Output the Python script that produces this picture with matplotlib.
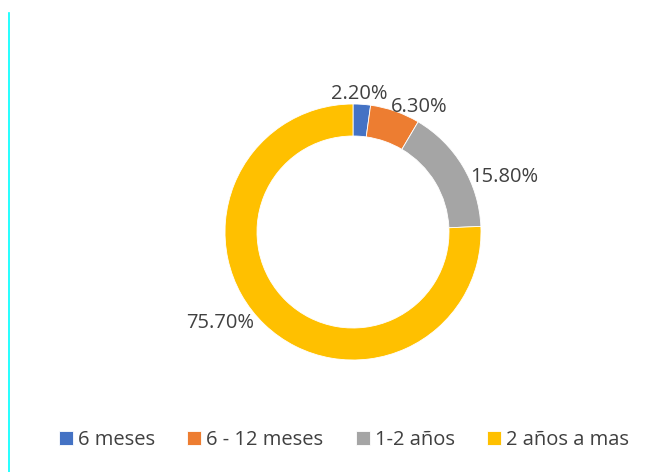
import matplotlib.pyplot as plt
from matplotlib.lines import Line2D

plt.rcParams['font.family'] = ['Open Sans', 'DejaVu Sans']

categorias = ['6 meses', '6 - 12 meses', '1-2 años', '2 años a mas']
valores = [2.2, 6.3, 15.8, 75.7]
etiquetas = ['2.20%', '6.30%', '15.80%', '75.70%']
colores = ['#4472C4', '#ED7D31', '#A5A5A5', '#FFC000']

# posiciones de las etiquetas (unidades del radio)
pos_etiquetas = [(0.05, 1.08), (0.52, 0.98), (1.18, 0.43), (-1.04, -0.71)]

W, H = 659, 472
cx, cy, R = 353, 232, 128

fig = plt.figure(figsize=(W / 100, H / 100), dpi=100)
ax = fig.add_axes([0, 0, 1, 1])

wedges, _ = ax.pie(valores, colors=colores, startangle=90, counterclock=False,
                   radius=1, wedgeprops=dict(width=0.25, edgecolor='white', linewidth=0.6))

# limites despues de pie (pie los cambia)
ax.set_xlim(-cx / R, (W - cx) / R)
ax.set_ylim(-(H - cy) / R, cy / R)
ax.set_aspect('equal')
ax.axis('off')

for txt, (x, y) in zip(etiquetas, pos_etiquetas):
    ax.text(x, y, txt, ha='center', va='center', fontsize=14.5, color='#404040')

fig.legend(wedges, categorias, loc='center', bbox_to_anchor=(344 / W, 1 - 440 / H),
           ncol=4, frameon=False, fontsize=14.5, handlelength=0.7, handleheight=0.7,
           handletextpad=0.25, columnspacing=1.6, labelcolor='#404040')

# linea cian a la izquierda
fig.add_artist(Line2D([8.5 / W, 8.5 / W], [0, 1 - 13 / H], color='#00FFFF', linewidth=1.2))

fig.savefig('out.png', dpi=100)
